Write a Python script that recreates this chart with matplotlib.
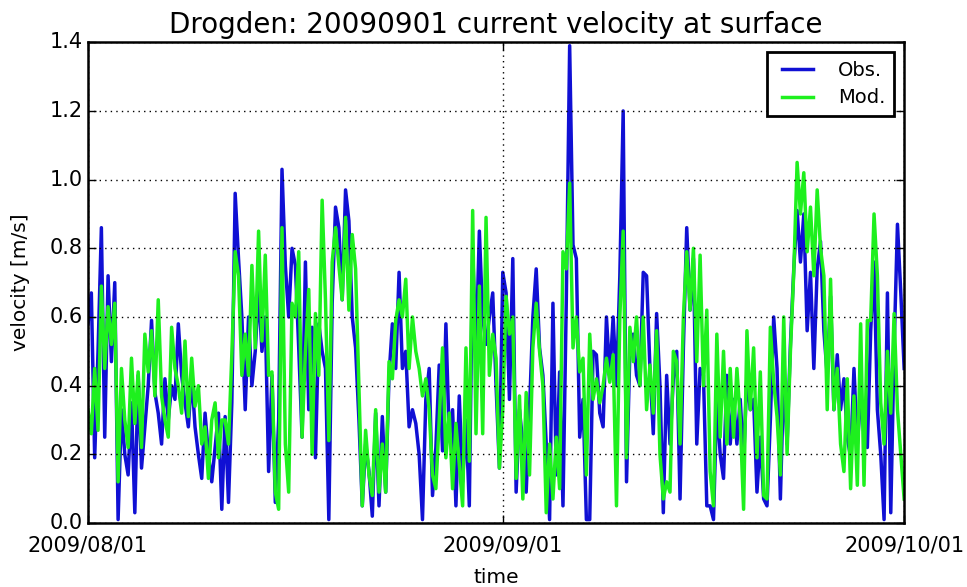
import numpy as np
import matplotlib
matplotlib.use('Agg')
import matplotlib.pyplot as plt
import matplotlib.dates as mdates

# 6-hourly samples from 2009-08-01 00:00 to 2009-10-01 00:00
start = np.datetime64('2009-08-01T00:00')
step_hours = 6

obs = [
    0.58, 0.67, 0.19, 0.5, 0.86, 0.25, 0.72, 0.47, 0.7, 0.01, 0.33, 0.2, 0.14, 0.35, 0.03, 0.43,
    0.16, 0.28, 0.4, 0.59, 0.38, 0.32, 0.23, 0.42, 0.3, 0.4, 0.36, 0.58, 0.43, 0.35, 0.28, 0.43,
    0.28, 0.2, 0.13, 0.32, 0.2, 0.12, 0.22, 0.32, 0.04, 0.31, 0.06, 0.35, 0.96, 0.77, 0.6, 0.33,
    0.6, 0.4, 0.5, 0.68, 0.5, 0.6, 0.15, 0.43, 0.06, 0.3, 1.03, 0.75, 0.6, 0.8, 0.75,
    0.51, 0.25, 0.76, 0.33, 0.57, 0.19, 0.58, 0.5, 0.45, 0.01, 0.64, 0.92, 0.86, 0.65, 0.97, 0.88,
    0.6, 0.51, 0.3, 0.05, 0.23, 0.15, 0.02, 0.32, 0.05, 0.31, 0.09, 0.43, 0.58, 0.45, 0.73,
    0.45, 0.5, 0.28, 0.33, 0.29, 0.2, 0.01, 0.36, 0.45, 0.08, 0.22, 0.46, 0.21, 0.58, 0.25, 0.33,
    0.05, 0.37, 0.12, 0.3, 0.05, 0.8, 0.49, 0.85, 0.6, 0.52, 0.6, 0.67, 0.4, 0.16, 0.73,
    0.67, 0.36, 0.77, 0.09, 0.33, 0.23, 0.09, 0.33, 0.6, 0.74, 0.51, 0.43, 0.23, 0.01, 0.64, 0.14,
    0.44, 0.05, 0.65, 1.39, 0.81, 0.77, 0.25, 0.36, 0.01, 0.01, 0.5, 0.49, 0.32, 0.28, 0.6,
    0.43, 0.6, 0.4, 0.72, 1.2, 0.12, 0.5, 0.55, 0.43, 0.4, 0.73, 0.72, 0.45, 0.26, 0.61, 0.4,
    0.03, 0.43, 0.23, 0.42, 0.5, 0.07, 0.51, 0.86, 0.62, 0.77, 0.23, 0.45, 0.43, 0.05, 0.05,
    0.01, 0.36, 0.2, 0.13, 0.43, 0.23, 0.36, 0.23, 0.36, 0.18, 0.43, 0.33, 0.36, 0.09, 0.25, 0.07,
    0.05, 0.3, 0.6, 0.45, 0.07, 0.43, 0.23, 0.52, 0.74, 0.91, 0.76, 0.9, 0.56, 0.73, 0.45,
    0.74, 0.82, 0.56, 0.43, 0.66, 0.33, 0.49, 0.33, 0.42, 0.25, 0.19, 0.45, 0.23, 0.36, 0.33, 0.22,
    0.56, 0.76, 0.33, 0.2, 0.01, 0.67, 0.03, 0.51, 0.87, 0.67, 0.45,
]

mod = [
    0.33, 0.26, 0.45, 0.27, 0.69, 0.45, 0.63, 0.52, 0.64, 0.12, 0.45, 0.3, 0.22, 0.48, 0.29, 0.44,
    0.22, 0.55, 0.44, 0.56, 0.37, 0.65, 0.37, 0.3, 0.25, 0.57, 0.45, 0.4, 0.32, 0.53, 0.31, 0.48,
    0.34, 0.4, 0.23, 0.28, 0.13, 0.3, 0.35, 0.19, 0.3, 0.3, 0.23, 0.49, 0.79, 0.72, 0.43, 0.55,
    0.43, 0.75, 0.51, 0.85, 0.53, 0.78, 0.43, 0.44, 0.09, 0.04, 0.86, 0.23, 0.09, 0.64, 0.6,
    0.79, 0.25, 0.5, 0.68, 0.2, 0.61, 0.43, 0.94, 0.65, 0.24, 0.76, 0.86, 0.75, 0.65, 0.89, 0.62,
    0.84, 0.74, 0.4, 0.05, 0.27, 0.14, 0.08, 0.33, 0.09, 0.23, 0.09, 0.47, 0.42, 0.59, 0.65,
    0.6, 0.71, 0.45, 0.6, 0.5, 0.45, 0.37, 0.42, 0.33, 0.14, 0.1, 0.3, 0.51, 0.19, 0.32, 0.1,
    0.29, 0.17, 0.05, 0.51, 0.18, 0.91, 0.26, 0.69, 0.26, 0.89, 0.43, 0.55, 0.48, 0.16, 0.33,
    0.66, 0.55, 0.6, 0.13, 0.37, 0.07, 0.38, 0.14, 0.51, 0.64, 0.5, 0.4, 0.03, 0.23, 0.07, 0.25,
    0.1, 0.79, 0.74, 0.99, 0.51, 0.6, 0.44, 0.48, 0.14, 0.55, 0.36, 0.42, 0.35, 0.4, 0.48,
    0.41, 0.49, 0.05, 0.6, 0.85, 0.19, 0.57, 0.47, 0.6, 0.4, 0.6, 0.33, 0.46, 0.32, 0.56, 0.2,
    0.07, 0.12, 0.09, 0.5, 0.47, 0.23, 0.6, 0.79, 0.62, 0.8, 0.47, 0.78, 0.4, 0.62, 0.15,
    0.05, 0.55, 0.25, 0.5, 0.23, 0.45, 0.25, 0.45, 0.3, 0.04, 0.56, 0.33, 0.51, 0.19, 0.44, 0.08,
    0.07, 0.57, 0.41, 0.31, 0.14, 0.6, 0.2, 0.5, 0.73, 1.05, 0.9, 1.02, 0.79, 0.92, 0.72,
    0.97, 0.8, 0.72, 0.33, 0.71, 0.33, 0.45, 0.23, 0.15, 0.42, 0.1, 0.37, 0.11, 0.58, 0.11, 0.59,
    0.59, 0.9, 0.72, 0.35, 0.23, 0.5, 0.32, 0.61, 0.33, 0.2, 0.07,
]

tick_dates = ['2009-08-01', '2009-09-01', '2009-10-01']

times = start + np.arange(len(obs)) * np.timedelta64(step_hours, 'h')
times = times.astype('datetime64[s]').astype(object)

plt.style.use('classic')
plt.rcParams['font.family'] = ['DejaVu Sans']

fig = plt.figure(figsize=(9.67, 5.87), dpi=100, facecolor='white')
ax = fig.add_axes([0.091, 0.109, 0.844, 0.819])

ax.plot(times, obs, color='#1010d4', lw=2.5, label='Obs.')
ax.plot(times, mod, color='#1ef01e', lw=2.5, label='Mod.')

ax.set_ylim(0, 1.4)
ax.set_yticks(np.arange(0, 1.41, 0.2))
ticks = [np.datetime64(d).astype('datetime64[s]').astype(object) for d in tick_dates]
ax.set_xlim(ticks[0], ticks[-1])
ax.set_xticks(ticks)
ax.xaxis.set_major_formatter(mdates.DateFormatter('%Y/%m/%d'))

ax.grid(True, color='k', linestyle=':', linewidth=1)
ax.tick_params(labelsize=15, direction='in', length=6, width=1)
ax.tick_params(axis='x', pad=9)
for s in ax.spines.values():
    s.set_linewidth(1.8)

ax.set_title('Drogden: 20090901 current velocity at surface', fontsize=20, y=1.005)
ax.set_xlabel('time', fontsize=14.5, labelpad=9)
ax.set_ylabel('velocity [m/s]', fontsize=14.5, labelpad=14)

leg = ax.legend(loc='upper right', fontsize=14, fancybox=False, handlelength=2.2,
                borderaxespad=0.5, labelspacing=0.45, handletextpad=1.0, borderpad=0.45)
leg.get_frame().set_linewidth(2)
leg.get_frame().set_edgecolor('k')

fig.savefig('out.png', dpi=100, facecolor='white')
